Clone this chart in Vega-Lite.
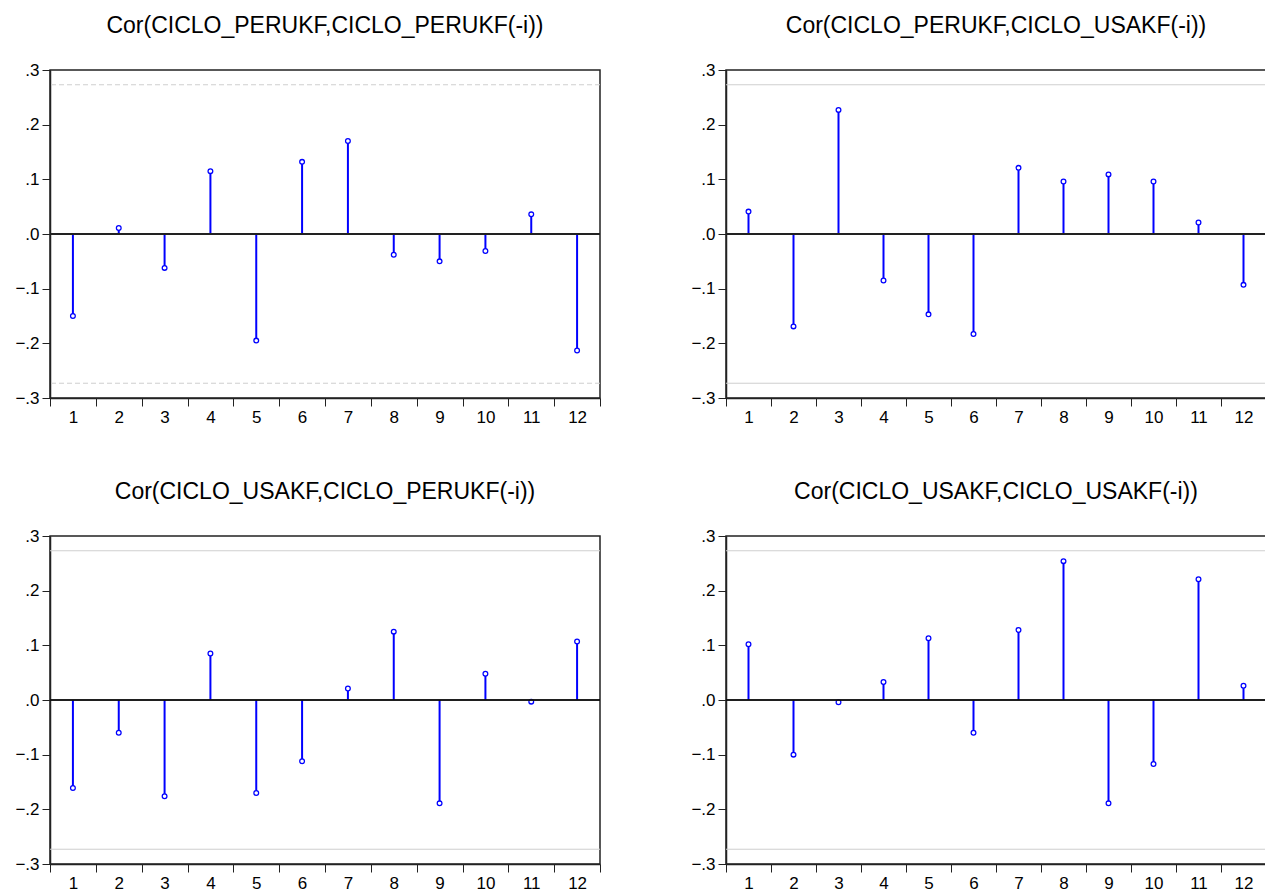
{
  "$schema": "https://vega.github.io/schema/vega-lite/v6.json",
  "padding": {"left": 14, "top": 14, "right": 0, "bottom": 0},
  "background": "white",
  "config": {
    "view": {"stroke": "#222222", "strokeWidth": 1.5},
    "font": "Liberation Sans",
    "title": {"font": "Liberation Sans", "fontSize": 23, "fontWeight": "normal", "color": "#000000", "offset": 23},
    "axis": {"labelFont": "Liberation Sans", "labelFontSize": 17, "labelColor": "#000000", "domainColor": "#222222", "tickColor": "#222222", "grid": false, "title": null}
  },
  "datasets": {
    "acf": [
      {"panel": "A", "lag": 1, "r": -0.150}, {"panel": "A", "lag": 2, "r": 0.011}, {"panel": "A", "lag": 3, "r": -0.062}, {"panel": "A", "lag": 4, "r": 0.115},
      {"panel": "A", "lag": 5, "r": -0.195}, {"panel": "A", "lag": 6, "r": 0.132}, {"panel": "A", "lag": 7, "r": 0.170}, {"panel": "A", "lag": 8, "r": -0.038},
      {"panel": "A", "lag": 9, "r": -0.050}, {"panel": "A", "lag": 10, "r": -0.031}, {"panel": "A", "lag": 11, "r": 0.036}, {"panel": "A", "lag": 12, "r": -0.213},
      {"panel": "B", "lag": 1, "r": 0.041}, {"panel": "B", "lag": 2, "r": -0.169}, {"panel": "B", "lag": 3, "r": 0.227}, {"panel": "B", "lag": 4, "r": -0.085},
      {"panel": "B", "lag": 5, "r": -0.147}, {"panel": "B", "lag": 6, "r": -0.183}, {"panel": "B", "lag": 7, "r": 0.121}, {"panel": "B", "lag": 8, "r": 0.096},
      {"panel": "B", "lag": 9, "r": 0.109}, {"panel": "B", "lag": 10, "r": 0.096}, {"panel": "B", "lag": 11, "r": 0.021}, {"panel": "B", "lag": 12, "r": -0.093},
      {"panel": "C", "lag": 1, "r": -0.161}, {"panel": "C", "lag": 2, "r": -0.060}, {"panel": "C", "lag": 3, "r": -0.176}, {"panel": "C", "lag": 4, "r": 0.085},
      {"panel": "C", "lag": 5, "r": -0.170}, {"panel": "C", "lag": 6, "r": -0.112}, {"panel": "C", "lag": 7, "r": 0.021}, {"panel": "C", "lag": 8, "r": 0.125},
      {"panel": "C", "lag": 9, "r": -0.189}, {"panel": "C", "lag": 10, "r": 0.048}, {"panel": "C", "lag": 11, "r": -0.003}, {"panel": "C", "lag": 12, "r": 0.107},
      {"panel": "D", "lag": 1, "r": 0.102}, {"panel": "D", "lag": 2, "r": -0.100}, {"panel": "D", "lag": 3, "r": -0.004}, {"panel": "D", "lag": 4, "r": 0.033},
      {"panel": "D", "lag": 5, "r": 0.113}, {"panel": "D", "lag": 6, "r": -0.060}, {"panel": "D", "lag": 7, "r": 0.128}, {"panel": "D", "lag": 8, "r": 0.254},
      {"panel": "D", "lag": 9, "r": -0.189}, {"panel": "D", "lag": 10, "r": -0.117}, {"panel": "D", "lag": 11, "r": 0.221}, {"panel": "D", "lag": 12, "r": 0.026}
    ],
    "bounds": [{"b": 0.273}, {"b": -0.273}]
  },
  "vconcat": [
    {
      "hconcat": [
        {
          "title": "Cor(CICLO_PERUKF,CICLO_PERUKF(-i))",
          "width": 550, "height": 328,
          "layer": [
            {"data": {"name": "bounds"}, "mark": {"type": "rule", "color": "#cfcfcf", "strokeWidth": 1, "strokeDash": [5, 3]},
             "encoding": {"y": {"field": "b", "type": "quantitative"}}},
            {"data": {"name": "acf"}, "transform": [{"filter": "datum.panel === 'A'"}], "layer": [
              {"mark": {"type": "rule", "color": "#0000ff", "strokeWidth": 2},
               "encoding": {
                 "x": {"field": "lag", "type": "ordinal", "scale": {"type": "band", "paddingInner": 0, "paddingOuter": 0},
                       "axis": {"labelAngle": 0, "tickBand": "extent", "tickSize": 8, "labelPadding": 3, "domainWidth": 1.5}},
                 "y": {"field": "r", "type": "quantitative", "scale": {"domain": [-0.3, 0.3], "nice": false, "zero": false},
                       "axis": {"values": [-0.3, -0.2, -0.1, 0, 0.1, 0.2, 0.3], "tickSize": 8, "labelPadding": 3, "domainWidth": 1.5,
                                "labelExpr": "replace(format(datum.value, '.1f'), '0.', '.')"}},
                 "y2": {"datum": 0}}},
              {"mark": {"type": "point", "shape": "circle", "filled": true, "fill": "white", "stroke": "#0000ff", "strokeWidth": 1.3, "size": 22, "opacity": 1},
               "encoding": {"x": {"field": "lag", "type": "ordinal"}, "y": {"field": "r", "type": "quantitative"}}}
            ]},
            {"data": {"name": "bounds"}, "mark": {"type": "rule", "color": "#222222", "strokeWidth": 2}, "encoding": {"y": {"datum": 0}}}
          ]
        },
        {
          "title": "Cor(CICLO_PERUKF,CICLO_USAKF(-i))",
          "width": 540, "height": 328,
          "layer": [
            {"data": {"name": "bounds"}, "mark": {"type": "rule", "color": "#cfcfcf", "strokeWidth": 1},
             "encoding": {"y": {"field": "b", "type": "quantitative"}}},
            {"data": {"name": "acf"}, "transform": [{"filter": "datum.panel === 'B'"}], "layer": [
              {"mark": {"type": "rule", "color": "#0000ff", "strokeWidth": 2},
               "encoding": {
                 "x": {"field": "lag", "type": "ordinal", "scale": {"type": "band", "paddingInner": 0, "paddingOuter": 0},
                       "axis": {"labelAngle": 0, "tickBand": "extent", "tickSize": 8, "labelPadding": 3, "domainWidth": 1.5}},
                 "y": {"field": "r", "type": "quantitative", "scale": {"domain": [-0.3, 0.3], "nice": false, "zero": false},
                       "axis": {"values": [-0.3, -0.2, -0.1, 0, 0.1, 0.2, 0.3], "tickSize": 8, "labelPadding": 3, "domainWidth": 1.5,
                                "labelExpr": "replace(format(datum.value, '.1f'), '0.', '.')"}},
                 "y2": {"datum": 0}}},
              {"mark": {"type": "point", "shape": "circle", "filled": true, "fill": "white", "stroke": "#0000ff", "strokeWidth": 1.3, "size": 22, "opacity": 1},
               "encoding": {"x": {"field": "lag", "type": "ordinal"}, "y": {"field": "r", "type": "quantitative"}}}
            ]},
            {"data": {"name": "bounds"}, "mark": {"type": "rule", "color": "#222222", "strokeWidth": 2}, "encoding": {"y": {"datum": 0}}}
          ]
        }
      ],
      "spacing": 88
    },
    {
      "hconcat": [
        {
          "title": "Cor(CICLO_USAKF,CICLO_PERUKF(-i))",
          "width": 550, "height": 328,
          "layer": [
            {"data": {"name": "bounds"}, "mark": {"type": "rule", "color": "#cfcfcf", "strokeWidth": 1},
             "encoding": {"y": {"field": "b", "type": "quantitative"}}},
            {"data": {"name": "acf"}, "transform": [{"filter": "datum.panel === 'C'"}], "layer": [
              {"mark": {"type": "rule", "color": "#0000ff", "strokeWidth": 2},
               "encoding": {
                 "x": {"field": "lag", "type": "ordinal", "scale": {"type": "band", "paddingInner": 0, "paddingOuter": 0},
                       "axis": {"labelAngle": 0, "tickBand": "extent", "tickSize": 8, "labelPadding": 3, "domainWidth": 1.5}},
                 "y": {"field": "r", "type": "quantitative", "scale": {"domain": [-0.3, 0.3], "nice": false, "zero": false},
                       "axis": {"values": [-0.3, -0.2, -0.1, 0, 0.1, 0.2, 0.3], "tickSize": 8, "labelPadding": 3, "domainWidth": 1.5,
                                "labelExpr": "replace(format(datum.value, '.1f'), '0.', '.')"}},
                 "y2": {"datum": 0}}},
              {"mark": {"type": "point", "shape": "circle", "filled": true, "fill": "white", "stroke": "#0000ff", "strokeWidth": 1.3, "size": 22, "opacity": 1},
               "encoding": {"x": {"field": "lag", "type": "ordinal"}, "y": {"field": "r", "type": "quantitative"}}}
            ]},
            {"data": {"name": "bounds"}, "mark": {"type": "rule", "color": "#111111", "strokeWidth": 1.5}, "encoding": {"y": {"datum": 0}}}
          ]
        },
        {
          "title": "Cor(CICLO_USAKF,CICLO_USAKF(-i))",
          "width": 540, "height": 328,
          "layer": [
            {"data": {"name": "bounds"}, "mark": {"type": "rule", "color": "#cfcfcf", "strokeWidth": 1},
             "encoding": {"y": {"field": "b", "type": "quantitative"}}},
            {"data": {"name": "acf"}, "transform": [{"filter": "datum.panel === 'D'"}], "layer": [
              {"mark": {"type": "rule", "color": "#0000ff", "strokeWidth": 2},
               "encoding": {
                 "x": {"field": "lag", "type": "ordinal", "scale": {"type": "band", "paddingInner": 0, "paddingOuter": 0},
                       "axis": {"labelAngle": 0, "tickBand": "extent", "tickSize": 8, "labelPadding": 3, "domainWidth": 1.5}},
                 "y": {"field": "r", "type": "quantitative", "scale": {"domain": [-0.3, 0.3], "nice": false, "zero": false},
                       "axis": {"values": [-0.3, -0.2, -0.1, 0, 0.1, 0.2, 0.3], "tickSize": 8, "labelPadding": 3, "domainWidth": 1.5,
                                "labelExpr": "replace(format(datum.value, '.1f'), '0.', '.')"}},
                 "y2": {"datum": 0}}},
              {"mark": {"type": "point", "shape": "circle", "filled": true, "fill": "white", "stroke": "#0000ff", "strokeWidth": 1.3, "size": 22, "opacity": 1},
               "encoding": {"x": {"field": "lag", "type": "ordinal"}, "y": {"field": "r", "type": "quantitative"}}}
            ]},
            {"data": {"name": "bounds"}, "mark": {"type": "rule", "color": "#111111", "strokeWidth": 1.5}, "encoding": {"y": {"datum": 0}}}
          ]
        }
      ],
      "spacing": 88
    }
  ],
  "spacing": 54
}
